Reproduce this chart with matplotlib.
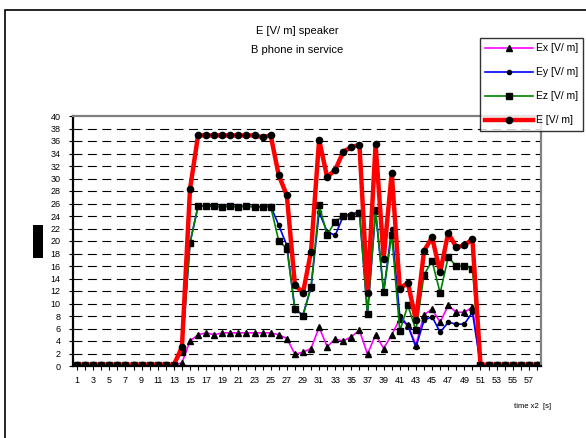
import matplotlib
matplotlib.use("Agg")
import matplotlib.pyplot as plt
import numpy as np
from matplotlib.patches import Rectangle

plt.rcParams['font.family'] = ['Liberation Sans', 'DejaVu Sans']

# time index 1..58
t = np.arange(1, 59)

ex = [0.2] * 13 + [0.5, 4.0, 5.0, 5.3, 5.0, 5.3, 5.3, 5.3, 5.3, 5.3, 5.3, 5.3,
                   5.0, 4.4, 1.9, 2.2, 2.8, 6.2, 3.1, 4.3, 4.0, 4.7, 5.7, 1.9,
                   5.0, 2.8, 5.0, 7.5, 6.5, 3.4, 8.2, 9.1, 7.0, 9.7, 8.6, 8.6,
                   9.4] + [0.2] * 8
ey = [0.2] * 13 + [2.3, 19.7, 25.6, 25.6, 25.6, 25.5, 25.6, 25.5, 25.6, 25.5, 25.5, 25.6,
                   22.5, 19.3, 9.0, 8.2, 12.5, 24.6, 21.5, 20.9, 24.0, 24.3, 24.7, 8.3,
                   24.7, 11.8, 22.0, 8.0, 6.5, 3.0, 7.3, 7.9, 5.4, 7.0, 6.7, 6.7,
                   8.6] + [0.2] * 8
ez = [0.2] * 13 + [2.3, 19.7, 25.6, 25.6, 25.6, 25.4, 25.6, 25.4, 25.6, 25.4, 25.4, 25.5,
                   20.0, 18.8, 9.2, 8.0, 12.7, 25.7, 21.0, 23.1, 24.0, 24.0, 24.5, 8.3,
                   25.0, 11.8, 21.0, 5.6, 9.7, 5.7, 14.6, 16.8, 11.7, 17.4, 16.0, 16.0,
                   15.6] + [0.2] * 8
e = [0.2] * 13 + [3.0, 28.3, 36.9, 36.9, 36.9, 36.9, 36.9, 36.9, 36.9, 36.9, 36.6, 36.9,
                  30.5, 27.3, 13.0, 11.7, 18.3, 36.2, 30.2, 31.4, 34.3, 35.0, 35.4, 11.7,
                  35.5, 17.2, 30.9, 12.4, 13.3, 7.3, 18.4, 20.6, 15.0, 21.3, 19.0, 19.3,
                  20.3] + [0.2] * 8

W, H = 586, 438
fig = plt.figure(figsize=(W / 100, H / 100), dpi=100)

# outer frame of the chart area
fig.patches.append(Rectangle((5 / W, -0.1), 1.2, 1 - 10 / H + 0.1, transform=fig.transFigure,
                             fill=False, edgecolor='black', lw=1.2))
# blacked-out y label
fig.patches.append(Rectangle((33 / W, 1 - 258 / H), 10 / W, 33 / H, transform=fig.transFigure,
                             facecolor='black', edgecolor='none'))

ax = fig.add_axes([73 / W, 1 - 366 / H, (541 - 73) / W, (366 - 116) / H])
ax.set_xlim(0.5, 58.5)
ax.set_ylim(0, 40)

for y in range(2, 40, 2):
    ax.axhline(y, color='black', lw=0.8, dashes=(8, 5), zorder=0)

ax.plot(t, ex, color='#ff00ff', lw=1.2, marker='^', ms=4, mfc='black', mec='black', label='Ex [V/ m]')
ax.plot(t, ey, color='#0000ff', lw=1.2, marker='o', ms=3, mfc='black', mec='black', label='Ey [V/ m]')
ax.plot(t, ez, color='#008000', lw=1.2, marker='s', ms=4, mfc='black', mec='black', label='Ez [V/ m]')
ax.plot(t, e, color='#ff0000', lw=3.2, marker='o', ms=4.5, mfc='black', mec='black', label='E [V/ m]')

ax.set_yticks(range(0, 41, 2))
ax.set_yticklabels([str(v) for v in range(0, 41, 2)])
ax.set_xticks(t)
ax.set_xticklabels([str(v) if v % 2 == 1 else '' for v in t])
ax.tick_params(axis='both', labelsize=6.5, length=3, width=0.8, direction='out', colors='black')
ax.tick_params(axis='y', pad=6)
ax.tick_params(axis='x', pad=4)

for s in ['left', 'bottom']:
    ax.spines[s].set_color('black')
    ax.spines[s].set_linewidth(1.6)
for s in ['top', 'right']:
    ax.spines[s].set_color('#808080')
    ax.spines[s].set_linewidth(1.6)

fig.text(297 / W, 1 - 31 / H, 'E [V/ m] speaker', ha='center', va='center', fontsize=8)
fig.text(297 / W, 1 - 50 / H, 'B phone in service', ha='center', va='center', fontsize=8)
fig.text(533 / W, 1 - 407 / H, 'time x2  [s]', ha='center', va='center', fontsize=5.5)

leg = fig.legend(loc='upper left', bbox_to_anchor=(480 / W, 1 - 38 / H), fontsize=7.5,
                 handlelength=4.6, frameon=True, fancybox=False, borderpad=0.5,
                 labelspacing=1.35, handletextpad=0.25, borderaxespad=0)
leg.get_frame().set_edgecolor('black')
leg.get_frame().set_linewidth(1.0)

fig.savefig('out.png', dpi=100)
